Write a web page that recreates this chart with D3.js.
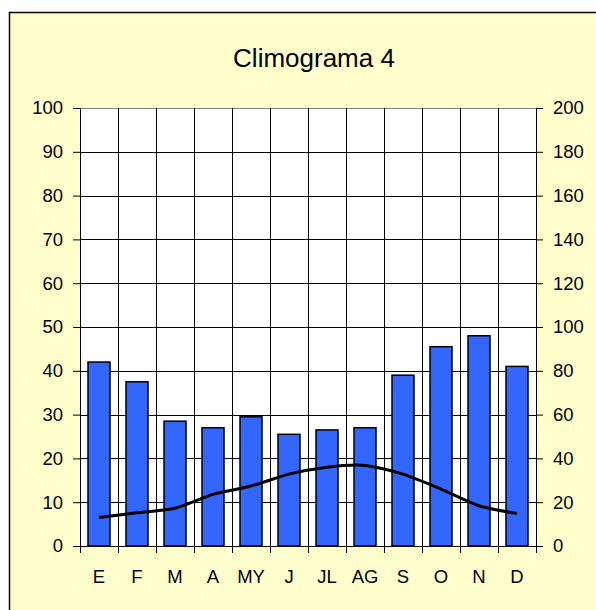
<!DOCTYPE html>
<html><head><meta charset="utf-8">
<script src="https://cdn.jsdelivr.net/npm/d3@7"></script>
<style>body{margin:0;background:#fff}svg{display:block}</style>
</head><body>
<script>
const months = ["E","F","M","A","MY","J","JL","AG","S","O","N","D"];
const precipitation = [84, 75, 57, 54, 59, 51, 53, 54, 78, 91, 96, 82];
const temperature = [6.5, 7.6, 8.6, 11.8, 13.7, 16.4, 18.0, 18.4, 16.4, 13.0, 9.2, 7.4];
const leftTicks = [0,10,20,30,40,50,60,70,80,90,100];
const rightTicks = [0,20,40,60,80,100,120,140,160,180,200];
const title = "Climograma 4";

const W = 596, H = 610;
const m = {left: 80, right: 536, top: 108, bottom: 546};
const svg = d3.select("body").append("svg").attr("width", W).attr("height", H);
const font = "Arial, 'Liberation Sans', sans-serif";

svg.append("rect").attr("x", 9.5).attr("y", 12.5).attr("width", 700).attr("height", 700)
  .attr("fill", "#FFFFCC").attr("stroke", "#000").attr("stroke-width", 1.5);

svg.append("text").attr("x", 314).attr("y", 67).attr("text-anchor", "middle")
  .attr("font-family", font).attr("font-size", 26).attr("fill", "#000").text(title);

const x = d3.scaleBand().domain(months).range([m.left, m.right]).paddingInner(0).paddingOuter(0);
const yL = d3.scaleLinear().domain([0, 100]).range([m.bottom, m.top]);
const yR = d3.scaleLinear().domain([0, 200]).range([m.bottom, m.top]);

svg.append("rect").attr("x", m.left).attr("y", m.top).attr("width", m.right - m.left)
  .attr("height", m.bottom - m.top).attr("fill", "#fff");

// horizontal grid
svg.append("g").selectAll("line").data(leftTicks.slice(1, -1)).join("line")
  .attr("x1", m.left).attr("x2", m.right)
  .attr("y1", d => Math.round(yL(d)) + 0.5).attr("y2", d => Math.round(yL(d)) + 0.5)
  .attr("stroke", "#000").attr("stroke-width", 1);
// top border gray
svg.append("line").attr("x1", m.left).attr("x2", m.right).attr("y1", m.top + 0.5).attr("y2", m.top + 0.5)
  .attr("stroke", "#808080").attr("stroke-width", 1);
// vertical grid
svg.append("g").selectAll("line").data(months.slice(1)).join("line")
  .attr("x1", d => Math.round(x(d)) + 0.5).attr("x2", d => Math.round(x(d)) + 0.5)
  .attr("y1", m.top).attr("y2", m.bottom)
  .attr("stroke", "#000").attr("stroke-width", 1);

// bars
const bw = 22;
svg.append("g").selectAll("rect").data(precipitation).join("rect")
  .attr("x", (d, i) => x(months[i]) + x.bandwidth() / 2 - bw / 2)
  .attr("y", d => yR(d))
  .attr("width", bw)
  .attr("height", d => yR(0) - yR(d))
  .attr("fill", "#3366FF").attr("stroke", "#000").attr("stroke-width", 1.5);

// line
const line = d3.line()
  .x((d, i) => x(months[i]) + x.bandwidth() / 2)
  .y(d => yL(d))
  .curve(d3.curveCardinal.tension(0.3));
svg.append("path").datum(temperature).attr("d", line)
  .attr("fill", "none").attr("stroke", "#000").attr("stroke-width", 3);

// axes
function styleAxis(g) {
  g.selectAll("text").attr("font-family", font).attr("font-size", 18.5).attr("fill", "#000");
  g.selectAll("line").attr("stroke", "#000");
  g.select(".domain").attr("stroke", "#000");
}
svg.append("g").attr("transform", `translate(${m.left},0)`)
  .call(d3.axisLeft(yL).tickValues(leftTicks).tickSize(7).tickPadding(10).tickSizeOuter(0))
  .call(styleAxis);
svg.append("g").attr("transform", `translate(${m.right},0)`)
  .call(d3.axisRight(yR).tickValues(rightTicks).tickSize(7).tickPadding(10).tickSizeOuter(0))
  .call(styleAxis);

const xb = svg.append("g").attr("transform", `translate(0,${m.bottom})`)
  .call(d3.axisBottom(x).tickSize(0).tickPadding(37).tickSizeOuter(0))
  .call(styleAxis);
xb.selectAll("text").attr("dy", "0");
// category boundary ticks
svg.append("g").selectAll("line").data(months.map(d => x(d)).concat([m.right])).join("line")
  .attr("x1", d => Math.round(d) + 0.5).attr("x2", d => Math.round(d) + 0.5)
  .attr("y1", m.bottom).attr("y2", m.bottom + 7)
  .attr("stroke", "#000");
</script>
</body></html>
